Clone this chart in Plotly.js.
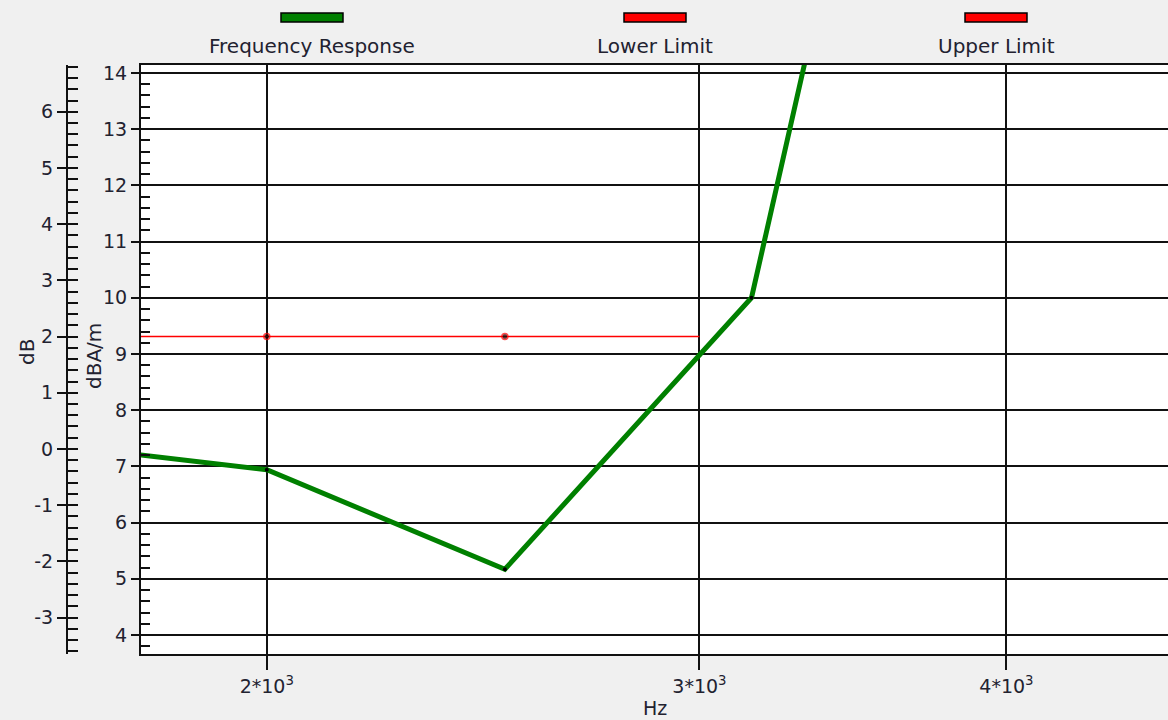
<!DOCTYPE html>
<html>
<head>
<meta charset="utf-8">
<script src="https://cdn.plot.ly/plotly-3.0.1.min.js"></script>
<style>
html,body{margin:0;padding:0;background:#f0f0f0;}
#chart{width:1168px;height:720px;}
</style>
</head>
<body>
<div id="chart"></div>
<script>
// ---- data ----
const respFreqs = [1600, 2000, 2500, 3150, 4000];
const respValues = [7.44, 6.94, 5.17, 10.0, 30.0];
const limitFreqs = [1600, 2000, 2500, 3000];
const lowerLimit = [9.31, 9.31, 9.31, 9.31];
const xTickVals = [2000, 3000, 4000];
const xTickText = ['2*10<sup>3</sup>', '3*10<sup>3</sup>', '4*10<sup>3</sup>'];
const dbTickVals = [-3, -2, -1, 0, 1, 2, 3, 4, 5, 6];
const dbTickText = ['-3', '-2', '-1', '0', '1', '2', '3', '4', '5', '6'];
const legendNames = ['Frequency Response', 'Lower Limit', 'Upper Limit'];
const legendColors = ['#008000', '#ff0000', '#ff0000'];

// ---- layout helpers (pixel -> paper) ----
const W = 1168, H = 720, T = 65, B = 66;
const plotH = H - T - B;
const px = x => x / W;
const py = y => (H - B - y) / plotH;

const dbOffset = 7.31;
const yRange = [3.662, 14.142];
const xRange = [Math.log10(1777.6), Math.log10(4654)];
const FONT = 'DejaVu Sans, Verdana, sans-serif';
const TXT = '#222230';

const traces = [
  {
    x: limitFreqs, y: lowerLimit, type: 'scatter', mode: 'lines+markers',
    name: legendNames[1], showlegend: false,
    line: {color: '#ff0000', width: 1.6},
    marker: {color: '#000000', size: [6, 6, 6, 0], line: {color: '#ff0000', width: 1.5}},
    xaxis: 'x', yaxis: 'y', cliponaxis: true
  },
  {
    x: respFreqs, y: respValues, type: 'scatter', mode: 'lines+markers',
    name: legendNames[0], showlegend: false,
    line: {color: '#008000', width: 5},
    marker: {color: '#000000', size: 4},
    xaxis: 'x', yaxis: 'y', cliponaxis: true
  }
];

const shapes = [];
const annotations = [];
const legendCenters = [312, 655, 996];
legendNames.forEach((n, i) => {
  const cx = legendCenters[i];
  shapes.push({
    type: 'rect', xref: 'paper', yref: 'paper',
    x0: px(cx - 31), x1: px(cx + 31), y0: py(22), y1: py(13),
    fillcolor: legendColors[i], line: {color: '#000', width: 1.5}
  });
  annotations.push({
    xref: 'paper', yref: 'paper', x: px(cx), y: py(46), text: n,
    showarrow: false, xanchor: 'center', yanchor: 'middle',
    font: {family: FONT, size: 20, color: TXT}
  });
});
annotations.push({xref:'paper', yref:'paper', x: px(27), y: py(352), text:'dB', textangle:-90,
  showarrow:false, xanchor:'center', yanchor:'middle', font:{family:FONT, size:20, color:TXT}});
annotations.push({xref:'paper', yref:'paper', x: px(94), y: py(356), text:'dBA/m', textangle:-90,
  showarrow:false, xanchor:'center', yanchor:'middle', font:{family:FONT, size:20, color:TXT}});
annotations.push({xref:'paper', yref:'paper', x: px(655), y: py(708), text:'Hz',
  showarrow:false, xanchor:'center', yanchor:'middle', font:{family:FONT, size:19, color:TXT}});

const layout = {
  width: W, height: H,
  margin: {l: 0, r: 0, t: T, b: B, pad: 0},
  paper_bgcolor: '#f0f0f0', plot_bgcolor: '#ffffff',
  showlegend: false,
  font: {family: FONT, size: 19, color: TXT},
  xaxis: {
    type: 'log', range: xRange, domain: [px(141), 1],
    tickvals: xTickVals, ticktext: xTickText,
    showgrid: true, gridcolor: '#111', gridwidth: 2,
    ticks: 'outside', ticklen: 14, tickwidth: 2, tickcolor: '#111',
    showline: true, linecolor: '#111', linewidth: 2, mirror: true,
    zeroline: false, tickfont: {family: FONT, size: 19, color: TXT},
    fixedrange: true
  },
  yaxis: {
    range: yRange, dtick: 1, tick0: 0,
    showgrid: true, gridcolor: '#111', gridwidth: 2,
    ticks: 'outside', ticklen: 8, tickwidth: 2, tickcolor: '#111',
    minor: {dtick: 0.2, ticks: 'inside', ticklen: 9, tickwidth: 2, tickcolor: '#111', showgrid: false},
    showline: true, linecolor: '#111', linewidth: 2, mirror: false,
    zeroline: false, tickfont: {family: FONT, size: 19, color: TXT},
    fixedrange: true
  },
  yaxis2: {
    overlaying: 'y', anchor: 'free', side: 'left', position: px(67),
    range: [yRange[0] - dbOffset, yRange[1] - dbOffset],
    tickmode: 'array', tickvals: dbTickVals, ticktext: dbTickText,
    showgrid: false, zeroline: false,
    ticks: 'outside', ticklen: 9, tickwidth: 2, tickcolor: '#111',
    minor: {dtick: 0.2, tick0: 0, ticks: 'inside', ticklen: 10, tickwidth: 2, tickcolor: '#111', showgrid: false},
    showline: true, linecolor: '#111', linewidth: 2,
    tickfont: {family: FONT, size: 19, color: TXT},
    fixedrange: true
  },
  yaxis3: {
    overlaying: 'y', anchor: 'free', side: 'left', position: px(67),
    range: [yRange[0] - dbOffset, yRange[1] - dbOffset], dtick: 1, tick0: 0,
    showgrid: false, zeroline: false, showline: false, showticklabels: false,
    ticks: 'inside', ticklen: 10, tickwidth: 2, tickcolor: '#111',
    fixedrange: true
  },
  shapes: shapes,
  annotations: annotations
};

// empty traces so the dB axes are rendered
traces.push({x: [], y: [], type: 'scatter', yaxis: 'y2', xaxis: 'x', showlegend: false, hoverinfo: 'skip'});
traces.push({x: [], y: [], type: 'scatter', yaxis: 'y3', xaxis: 'x', showlegend: false, hoverinfo: 'skip'});

Plotly.newPlot('chart', traces, layout, {displayModeBar: false, staticPlot: true});
</script>
</body>
</html>
